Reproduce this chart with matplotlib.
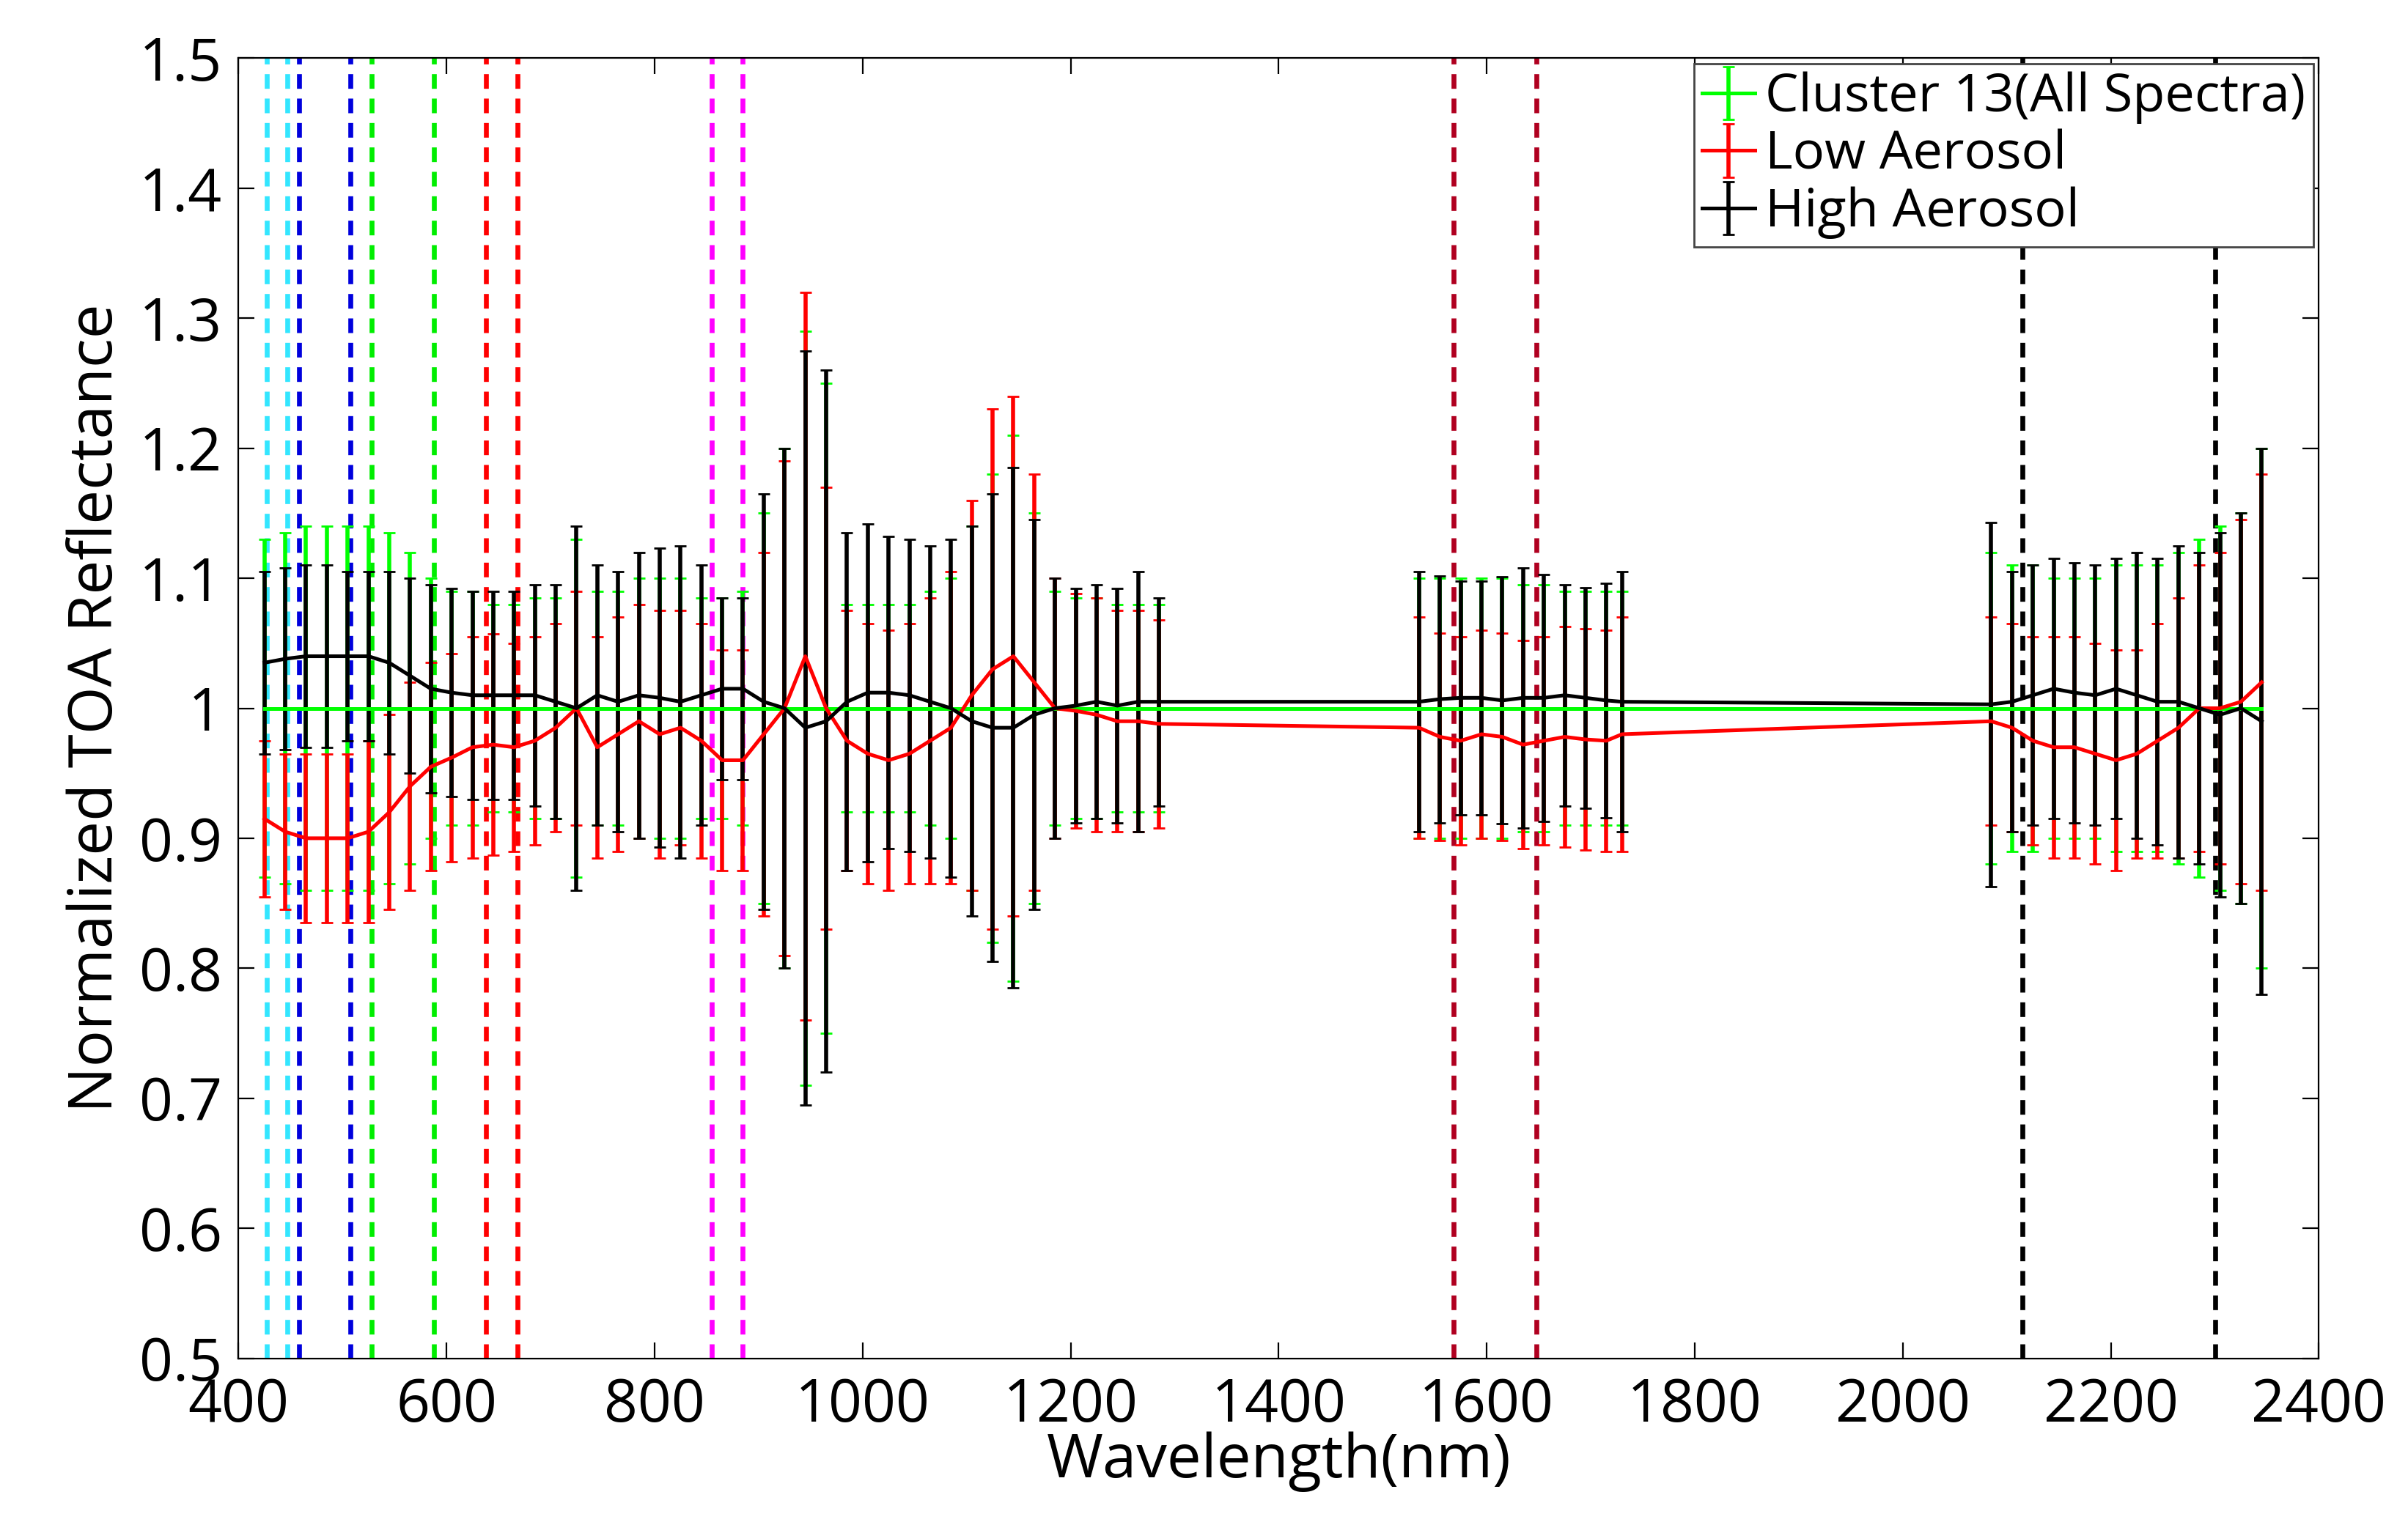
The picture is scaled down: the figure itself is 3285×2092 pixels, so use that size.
import matplotlib.pyplot as plt
import numpy as np

plt.rcParams['font.family'] = ['Open Sans', 'DejaVu Sans']

wl = [425, 445, 465, 485, 505, 525, 545, 565, 585, 605, 625, 645, 665, 685, 705, 725,
      745, 765, 785, 805, 825, 845, 865, 885, 905, 925, 945, 965, 985, 1005, 1025, 1045,
      1065, 1085, 1105, 1125, 1145, 1165, 1185, 1205, 1225, 1245, 1265, 1285,
      1535, 1555, 1575, 1595, 1615, 1635, 1655, 1675, 1695, 1715, 1730,
      2085, 2105, 2125, 2145, 2165, 2185, 2205, 2225, 2245, 2265, 2285, 2305, 2325, 2345]

green_mean = [1.0] * len(wl)
green_err = [0.13, 0.135, 0.14, 0.14, 0.14, 0.14, 0.135, 0.12, 0.1, 0.09, 0.09, 0.08, 0.08, 0.085,
             0.085, 0.13, 0.09, 0.09, 0.1, 0.1, 0.1, 0.085, 0.085, 0.09, 0.15, 0.2, 0.29, 0.25,
             0.08, 0.08, 0.08, 0.08, 0.09, 0.1, 0.14, 0.18, 0.21, 0.15, 0.09, 0.085, 0.085, 0.08,
             0.08, 0.08,
             0.1, 0.1, 0.1, 0.1, 0.1, 0.095, 0.095, 0.09, 0.09, 0.09, 0.09,
             0.12, 0.11, 0.11, 0.1, 0.1, 0.1, 0.11, 0.11, 0.11, 0.12, 0.13, 0.14, 0.15, 0.2]

red_mean = [0.915, 0.905, 0.90, 0.90, 0.90, 0.905, 0.92, 0.94, 0.955, 0.962, 0.97, 0.972, 0.97,
            0.975, 0.985, 1.0, 0.97, 0.98, 0.99, 0.98, 0.985, 0.975, 0.96, 0.96, 0.98, 1.0, 1.04,
            1.0, 0.975, 0.965, 0.96, 0.965, 0.975, 0.985, 1.01, 1.03, 1.04, 1.02, 1.0, 0.998,
            0.995, 0.99, 0.99, 0.988,
            0.985, 0.978, 0.975, 0.98, 0.978, 0.972, 0.975, 0.978, 0.976, 0.975, 0.98,
            0.99, 0.985, 0.975, 0.97, 0.97, 0.965, 0.96, 0.965, 0.975, 0.985, 1.0, 1.0, 1.005, 1.02]
red_err = [0.06, 0.06, 0.065, 0.065, 0.065, 0.07, 0.075, 0.08, 0.08, 0.08, 0.085, 0.085, 0.08,
           0.08, 0.08, 0.09, 0.085, 0.09, 0.09, 0.095, 0.09, 0.09, 0.085, 0.085, 0.14, 0.19, 0.28,
           0.17, 0.1, 0.1, 0.1, 0.1, 0.11, 0.12, 0.15, 0.2, 0.2, 0.16, 0.1, 0.09, 0.09, 0.085,
           0.085, 0.08,
           0.085, 0.08, 0.08, 0.08, 0.08, 0.08, 0.08, 0.085, 0.085, 0.085, 0.09,
           0.08, 0.08, 0.08, 0.085, 0.085, 0.085, 0.085, 0.08, 0.09, 0.1, 0.11, 0.12, 0.14, 0.16]

black_mean = [1.035, 1.038, 1.04, 1.04, 1.04, 1.04, 1.035, 1.025, 1.015, 1.012, 1.01, 1.01, 1.01,
              1.01, 1.005, 1.0, 1.01, 1.005, 1.01, 1.008, 1.005, 1.01, 1.015, 1.015, 1.005, 1.0,
              0.985, 0.99, 1.005, 1.012, 1.012, 1.01, 1.005, 1.0, 0.99, 0.985, 0.985, 0.995, 1.0,
              1.002, 1.005, 1.002, 1.005, 1.005,
              1.005, 1.007, 1.008, 1.008, 1.006, 1.008, 1.008, 1.01, 1.008, 1.006, 1.005,
              1.003, 1.005, 1.01, 1.015, 1.012, 1.01, 1.015, 1.01, 1.005, 1.005, 1.0, 0.995, 1.0, 0.99]
black_err = [0.07, 0.07, 0.07, 0.07, 0.065, 0.065, 0.07, 0.075, 0.08, 0.08, 0.08, 0.08, 0.08,
             0.085, 0.09, 0.14, 0.1, 0.1, 0.11, 0.115, 0.12, 0.1, 0.07, 0.07, 0.16, 0.2, 0.29,
             0.27, 0.13, 0.13, 0.12, 0.12, 0.12, 0.13, 0.15, 0.18, 0.2, 0.15, 0.1, 0.09, 0.09,
             0.09, 0.1, 0.08,
             0.1, 0.095, 0.09, 0.09, 0.095, 0.1, 0.095, 0.085, 0.085, 0.09, 0.1,
             0.14, 0.1, 0.1, 0.1, 0.1, 0.1, 0.1, 0.11, 0.11, 0.12, 0.12, 0.14, 0.15, 0.21]

band_lines = [427, 447, 458, 508, 528, 588, 638, 668, 855, 885, 1568, 1648, 2115, 2300]
band_colors = ['#33e6ff', '#33e6ff', '#0000dd', '#0000dd', '#00ee00', '#00ee00', '#ff0000',
               '#ff0000', '#ff00ff', '#ff00ff', '#b00020', '#b00020', 'black', 'black']

fig = plt.figure(figsize=(16.425, 10.46), dpi=200)
ax = fig.add_axes([0.099, 0.114, 0.864, 0.848])

for x, c in zip(band_lines, band_colors):
    ax.axvline(x, color=c, ls='--', lw=2.4, dashes=(3, 2))

ax.errorbar(wl, green_mean, yerr=green_err, color='#00ff00', lw=1.8, elinewidth=2,
            capsize=3, label='Cluster 13(All Spectra)')
ax.errorbar(wl, red_mean, yerr=red_err, color='red', lw=1.8, elinewidth=2,
            capsize=3, label='Low Aerosol')
ax.errorbar(wl, black_mean, yerr=black_err, color='black', lw=1.8, elinewidth=2,
            capsize=3, label='High Aerosol')

ax.set_xlim(400, 2400)
ax.set_ylim(0.5, 1.5)
ax.set_xticks(np.arange(400, 2401, 200))
ax.set_yticks(np.arange(0.5, 1.51, 0.1))
ax.set_yticklabels(['0.5', '0.6', '0.7', '0.8', '0.9', '1', '1.1', '1.2', '1.3', '1.4', '1.5'])
ax.tick_params(labelsize=29, direction='in', length=8, top=True, right=True)
ax.tick_params(axis='x', pad=9)
ax.tick_params(axis='y', pad=8)
ax.set_xlabel('Wavelength(nm)', fontsize=30, labelpad=-2)
ax.set_ylabel('Normalized TOA Reflectance', fontsize=30, labelpad=6)
leg = ax.legend(loc='upper right', fontsize=26, borderaxespad=0.1, handlelength=1.0,
                handletextpad=0.2, fancybox=False, framealpha=1, borderpad=0.15, labelspacing=0.1)
leg.get_frame().set_edgecolor('#444444')

fig.savefig('out.png', dpi=200)
